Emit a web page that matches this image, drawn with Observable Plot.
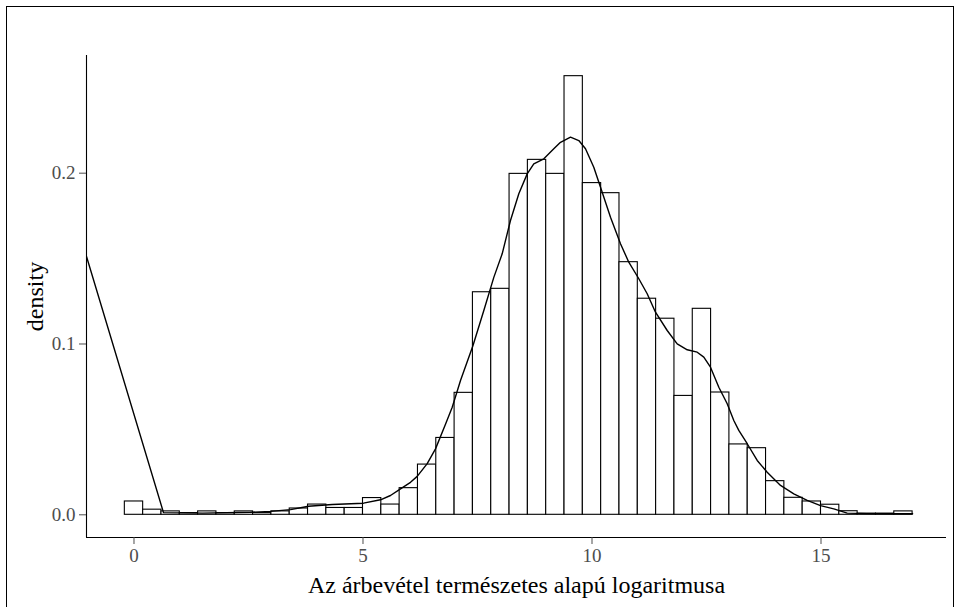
<!DOCTYPE html>
<html>
<head>
<meta charset="utf-8">
<script src="https://cdn.jsdelivr.net/npm/d3@7"></script>
<script src="https://cdn.jsdelivr.net/npm/@observablehq/plot@0.6"></script>
<style>
  html, body { margin: 0; padding: 0; background: #fff; }
  #wrap { position: relative; width: 956px; height: 607px; overflow: hidden; }
  #border { position: absolute; left: 6px; top: 6px; width: 948px; height: 700px; border: 1px solid #000; box-sizing: border-box; pointer-events: none; }
  #chart { position: absolute; left: 0; top: 0; }
  #chart svg, #chart svg text { font-family: "Liberation Serif", "Tinos", "Times New Roman", "DejaVu Serif", serif !important; }
</style>
</head>
<body>
<div id="wrap"><div id="chart"></div><div id="border"></div></div>
<script>
// Histogram bins (centres, width 0.4) and densities
const binCenter = [0, 0.4, 0.8, 1.2, 1.6, 2.0, 2.4, 2.8, 3.2, 3.6, 4.0, 4.4, 4.8, 5.2, 5.6, 6.0, 6.4, 6.8, 7.2, 7.6, 8.0, 8.4, 8.8, 9.2, 9.6, 10.0, 10.4, 10.8, 11.2, 11.6, 12.0, 12.4, 12.8, 13.2, 13.6, 14.0, 14.4, 14.8, 15.2, 15.6, 16.0, 16.4, 16.8];
const binHalfWidth = 0.2;
const binDensity = [0.0078, 0.003, 0.002, 0.001, 0.002, 0.001, 0.002, 0.001, 0.002, 0.0037, 0.006, 0.004, 0.004, 0.0098, 0.006, 0.0156, 0.0294, 0.045, 0.0714, 0.1303, 0.1323, 0.1996, 0.2078, 0.1996, 0.2568, 0.1942, 0.1883, 0.1479, 0.1265, 0.1148, 0.0696, 0.1206, 0.0716, 0.0412, 0.039, 0.0197, 0.00995, 0.0078, 0.0059, 0.0021, 0.0007, 0.0007, 0.002];

// Kernel density curve
const densX = [-1.037, 0.644, 1.5, 2.544, 2.98, 3.417, 3.81, 4.328, 5.011, 5.382, 5.6, 5.819, 6.037, 6.183, 6.402, 6.583, 6.801, 6.948, 7.129, 7.4, 7.638, 7.856, 8.039, 8.22, 8.402, 8.585, 8.729, 8.948, 9.166, 9.312, 9.531, 9.712, 9.858, 10.039, 10.186, 10.404, 10.622, 10.803, 11.022, 11.205, 11.386, 11.642, 11.86, 12.079, 12.297, 12.441, 12.587, 12.769, 12.952, 13.096, 13.205, 13.389, 13.607, 13.825, 14.116, 14.406, 14.699, 14.989, 15.279, 15.572, 16.0, 16.583, 17.0];
const densY = [0.1512, 0.0013, 0.001, 0.0015, 0.002, 0.003, 0.005, 0.006, 0.0068, 0.0088, 0.0113, 0.0152, 0.019, 0.0225, 0.03, 0.0386, 0.053, 0.063, 0.0786, 0.099, 0.1196, 0.139, 0.1528, 0.1723, 0.188, 0.1996, 0.2055, 0.2084, 0.2143, 0.2181, 0.2211, 0.2191, 0.2143, 0.2035, 0.1918, 0.1742, 0.1587, 0.1479, 0.1382, 0.1294, 0.1186, 0.1079, 0.1001, 0.0966, 0.0952, 0.0923, 0.0864, 0.0747, 0.065, 0.0552, 0.0494, 0.0416, 0.0318, 0.0249, 0.0172, 0.0123, 0.0084, 0.0054, 0.0035, 0.001, 0.0007, 0.0006, 0.0006];

const xTicks = [0, 5, 10, 15];
const yTicks = [0.0, 0.1, 0.2];
const xDomain = [-1.037, 17.74];
const yDomain = [-0.01329, 0.2689];
const xTitle = "Az árbevétel természetes alapú logaritmusa";
const yTitle = "density";

const bins = binCenter.map((c, i) => ({x1: c - binHalfWidth, x2: c + binHalfWidth, d: binDensity[i]}));
const dens = densX.map((x, i) => ({x, y: densY[i]}));

const chart = Plot.plot({
  width: 956,
  height: 607,
  marginLeft: 86,
  marginRight: 10,
  marginTop: 55,
  marginBottom: 70,
  style: {background: "transparent", overflow: "visible"},
  x: {domain: xDomain},
  y: {domain: yDomain},
  marks: [
    Plot.rectY(bins, {x1: "x1", x2: "x2", y1: 0, y2: "d", fill: "white", stroke: "black", strokeWidth: 1.1}),
    Plot.line(dens, {x: "x", y: "y", stroke: "black", strokeWidth: 1.4, clip: true}),
    Plot.ruleX([xDomain[0]], {stroke: "black", strokeWidth: 1.1}),
    Plot.ruleY([yDomain[0]], {stroke: "black", strokeWidth: 1.1}),
    Plot.axisX({ticks: xTicks, tickSize: 7, tickPadding: 4, fontSize: 19, color: "#4d4d4d", label: null, tickFormat: d => String(d)}),
    Plot.axisY({ticks: yTicks, tickSize: 7, tickPadding: 4, fontSize: 19, color: "#4d4d4d", label: null, tickFormat: d3.format(".1f")}),
    Plot.text([xTitle], {frameAnchor: "bottom", textAnchor: "middle", lineAnchor: "middle", dy: 48, fontSize: 24, fill: "black"}),
    Plot.text([yTitle], {frameAnchor: "left", textAnchor: "middle", lineAnchor: "middle", dx: -51, rotate: -90, fontSize: 24, fill: "black"})
  ]
});
document.getElementById("chart").appendChild(chart);
</script>
</body>
</html>
